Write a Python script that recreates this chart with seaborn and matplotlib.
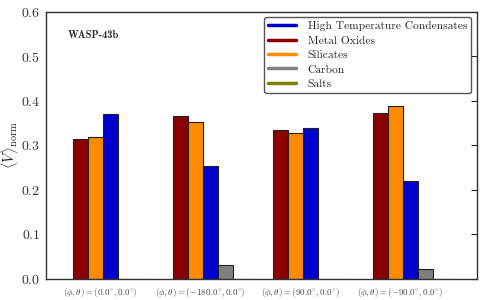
import numpy as np
import pandas as pd
import matplotlib
matplotlib.use("Agg")
import matplotlib.pyplot as plt
from matplotlib.lines import Line2D
import seaborn as sns

# data
positions = [r"$(\phi,\theta) = (0.0^{\circ},0.0^{\circ})$",
             r"$(\phi,\theta) = (-180.0^{\circ},0.0^{\circ})$",
             r"$(\phi,\theta) = (90.0^{\circ},0.0^{\circ})$",
             r"$(\phi,\theta) = (-90.0^{\circ},0.0^{\circ})$"]
species = ["Metal Oxides", "Silicates", "High Temperature Condensates", "Carbon", "Salts"]
metal_oxides = [0.314, 0.366, 0.335, 0.372]
silicates = [0.318, 0.352, 0.328, 0.389]
high_temp = [0.370, 0.253, 0.340, 0.220]
carbon = [0.0, 0.031, 0.0, 0.022]
salts = [0.0, 0.0, 0.0, 0.0]
colors = {"High Temperature Condensates": "#0000cd", "Metal Oxides": "#8b0000",
          "Silicates": "#ff8c00", "Carbon": "#808080", "Salts": "#808000"}
legend_order = ["High Temperature Condensates", "Metal Oxides", "Silicates", "Carbon", "Salts"]

rows = []
for name, vals in zip(species, [metal_oxides, silicates, high_temp, carbon, salts]):
    for p, v in zip(positions, vals):
        rows.append({"pos": p, "species": name, "V": v})
df = pd.DataFrame(rows)

sns.set_style("white")
plt.rcParams["font.family"] = "serif"
plt.rcParams["font.serif"] = ["cmr10", "DejaVu Serif"]
plt.rcParams["mathtext.fontset"] = "cm"
plt.rcParams["axes.formatter.use_mathtext"] = True

fig = plt.figure(figsize=(4.82, 3.0), dpi=100)
ax = fig.add_axes([0.0954, 0.071, 0.8942, 0.889])

sns.barplot(data=df, x="pos", y="V", hue="species", hue_order=species, order=positions,
            palette=colors, width=0.75, edgecolor="#222222", linewidth=0.8,
            saturation=1, legend=False, ax=ax)

ax.set_ylim(0, 0.6)
ax.set_xlim(-0.645, 3.665)
ax.set_xticks(np.arange(len(positions)) - 0.105)
ax.set_xticklabels(positions, fontsize=6.5, color="#444444")
ax.set_xlabel("")
ax.set_ylabel(r"$\langle V\rangle_{\rm norm}$", fontsize=10.5)
ax.yaxis.set_label_coords(-0.06, 0.5)
ax.tick_params(axis="x", length=0, pad=5)
ax.tick_params(axis="y", direction="in", right=True, length=4, labelsize=10,
               labelcolor="#333333", pad=4)
for s in ax.spines.values():
    s.set_color("#333333")
    s.set_linewidth(1.0)

ax.text(0.05, 0.914, "WASP-43b", transform=ax.transAxes, fontsize=7.5,
        family="cmb10", va="center", ha="left")

handles = [Line2D([0], [0], color=colors[n], lw=2.5) for n in legend_order]
ax.legend(handles, legend_order, loc="upper right", fontsize=8.3, fancybox=True,
          frameon=True, edgecolor="#555555", framealpha=1, handlelength=2.4,
          borderpad=0.35, labelspacing=0.38, handletextpad=1.0, borderaxespad=0,
          bbox_to_anchor=(0.986, 0.981))

fig.savefig("out.png", dpi=100)
